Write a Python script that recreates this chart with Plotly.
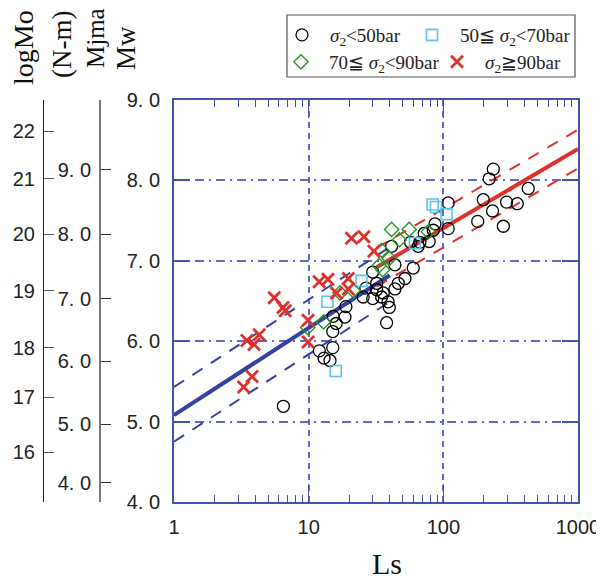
import plotly.graph_objects as go

# ---------------- data ----------------
ls_lt50 = [6.49, 12.0, 13.0, 14.4, 15.1, 15.1, 16.0, 15.2, 18.9, 18.6, 25.4, 26.6, 29.9, 32.0,
           34.8, 29.9, 32.0, 43.7, 46.3, 43.7, 51.9, 39.7, 37.9, 59.8, 41.3, 57.1, 67.0, 72.1,
           78.5, 86.7, 108.7, 108.7, 235, 219, 427, 198, 295, 354, 232, 180, 279, 84.2, 65.1,
           35.8, 38.9]
mw_lt50 = [5.19, 5.88, 5.79, 5.76, 5.92, 6.12, 6.22, 6.31, 6.43, 6.30, 6.55, 6.66, 6.53, 6.64,
           6.55, 6.86, 6.72, 6.95, 6.72, 6.65, 6.78, 6.42, 6.23, 6.91, 7.18, 7.23, 7.23, 7.34,
           7.24, 7.46, 7.40, 7.72, 8.14, 8.02, 7.90, 7.76, 7.73, 7.71, 7.62, 7.49, 7.43, 7.38,
           7.18, 6.60, 6.49]

ls_50_70 = [13.8, 15.9, 24.7, 61.5, 83.3, 88.2, 105.7]
mw_50_70 = [6.49, 5.63, 6.75, 7.22, 7.70, 7.67, 7.58]

ls_70_90 = [9.84, 12.9, 17.1, 21.4, 34.8, 39.7, 33.4, 35.5, 41.3, 47.1, 55.8, 77.3]
mw_70_90 = [6.17, 6.24, 6.60, 6.63, 7.13, 7.03, 6.94, 6.89, 7.39, 7.26, 7.39, 7.36]

ls_ge90 = [3.29, 3.80, 3.48, 3.93, 4.29, 5.55, 6.45, 6.70, 9.9, 9.9, 11.97, 13.9, 16.1,
           19.7, 19.7, 20.8, 25.7, 30.5]
mw_ge90 = [5.43, 5.56, 6.01, 5.96, 6.08, 6.54, 6.42, 6.38, 6.26, 5.99, 6.74, 6.77, 6.60,
           6.78, 6.65, 7.28, 7.30, 7.12]

# regression lines (end points)
blue_ls = [1, 40]
blue_mw = [5.08, 6.82]
blue_up_mw = [5.43, 7.17]
blue_lo_mw = [4.75, 6.49]
red_ls = [32, 1000]
red_mw = [6.92, 8.39]
red_up_mw = [7.16, 8.63]
red_lo_mw = [6.68, 8.15]

# axis tick labels
x_tickvals = [1, 10, 100, 1000]
x_ticktext = ["1", "10", "100", "1000"]
mw_tickvals = [4, 5, 6, 7, 8, 9]
mw_ticktext = ["4. 0", "5. 0", "6. 0", "7. 0", "8. 0", "9. 0"]
logmo_ticktext = ["16", "17", "18", "19", "20", "21", "22"]
logmo_tick_mw = [4.62, 5.30, 5.92, 6.63, 7.33, 8.02, 8.61]   # equivalent Mw positions
mjma_ticktext = ["4. 0", "5. 0", "6. 0", "7. 0", "8. 0", "9. 0"]
mjma_tick_mw = [4.24, 4.97, 5.75, 6.53, 7.33, 8.13]           # equivalent Mw positions

# ---------------- figure ----------------
W, H = 604, 581
OFF = 8                       # page body margin of the browser
# target positions on screen (px)
PLOT_L, PLOT_R, PLOT_T, PLOT_B = 174, 578, 100, 502
ML = 0
MR = W - (PLOT_R - OFF)
MT = PLOT_T - OFF
MB = H - (PLOT_B - OFF)
PW = W - ML - MR
PH = H - MT - MB


def px_x(px):
    return (px - OFF - ML) / PW


def px_y(py):
    return (PLOT_B - py) / PH


BLUE = "#3441a0"
RED = "#e0302a"
FRAME = "#4452b0"
GRID = "rgba(70,80,185,0.85)"

fig = go.Figure()

# lines
fig.add_trace(go.Scatter(x=blue_ls, y=blue_mw, mode="lines", line=dict(color=BLUE, width=4),
                         showlegend=False, hoverinfo="skip"))
for yy in (blue_up_mw, blue_lo_mw):
    fig.add_trace(go.Scatter(x=blue_ls, y=yy, mode="lines",
                             line=dict(color=BLUE, width=2, dash="12px,10px"),
                             showlegend=False, hoverinfo="skip"))
fig.add_trace(go.Scatter(x=red_ls, y=red_mw, mode="lines", line=dict(color=RED, width=4),
                         showlegend=False, hoverinfo="skip"))
for yy in (red_up_mw, red_lo_mw):
    fig.add_trace(go.Scatter(x=red_ls, y=yy, mode="lines",
                             line=dict(color=RED, width=2, dash="12px,10px"),
                             showlegend=False, hoverinfo="skip"))

# markers
fig.add_trace(go.Scatter(x=ls_lt50, y=mw_lt50, mode="markers",
                         name="<i>σ</i><sub>2</sub>&lt;50bar", legend="legend",
                         marker=dict(symbol="circle-open", size=12, color="black",
                                     line=dict(width=1.3, color="black"))))
fig.add_trace(go.Scatter(x=ls_50_70, y=mw_50_70, mode="markers",
                         name="50≦ <i>σ</i><sub>2</sub>&lt;70bar", legend="legend2",
                         marker=dict(symbol="square-open", size=11, color="#5ec3e6",
                                     line=dict(width=1.6, color="#5ec3e6"))))
fig.add_trace(go.Scatter(x=ls_70_90, y=mw_70_90, mode="markers",
                         name="70≦ <i>σ</i><sub>2</sub>&lt;90bar", legend="legend3",
                         marker=dict(symbol="diamond-open", size=11, color="#2a962a",
                                     line=dict(width=1.4, color="#2a962a"))))
fig.add_trace(go.Scatter(x=ls_ge90, y=mw_ge90, mode="markers",
                         name="<i>σ</i><sub>2</sub>≧90bar", legend="legend4",
                         marker=dict(symbol="x-thin", size=12, color=RED,
                                     line=dict(width=2.8, color=RED))))

# dummy traces to carry the auxiliary axes
fig.add_trace(go.Scatter(x=[None], y=[None], yaxis="y2", showlegend=False, hoverinfo="skip"))
fig.add_trace(go.Scatter(x=[None], y=[None], yaxis="y3", showlegend=False, hoverinfo="skip"))

minor_x = [m * 10 ** d for d in range(3) for m in range(2, 10)]

leg_font = dict(family="Liberation Serif", size=19, color="#222")


def leg(sym_x, sym_y):
    return dict(orientation="h", x=px_x(sym_x - 24), y=px_y(sym_y), xanchor="left",
                yanchor="middle", bgcolor="rgba(0,0,0,0)", borderwidth=0, itemwidth=46,
                font=leg_font)


fig.update_layout(
    width=W, height=H,
    margin=dict(l=ML, r=MR, t=MT, b=MB, pad=0, autoexpand=False),
    paper_bgcolor="white", plot_bgcolor="white",
    font=dict(family="Liberation Sans", color="#222"),
    xaxis=dict(
        type="log", range=[0, 3], domain=[px_x(PLOT_L), 1], automargin=False,
        tickvals=x_tickvals, ticktext=x_ticktext,
        tickfont=dict(size=20, family="Liberation Sans", color="#222"),
        ticks="inside", ticklen=18, tickwidth=1.2, tickcolor=FRAME,
        minor=dict(tickvals=minor_x, ticks="inside", ticklen=7, tickwidth=1, tickcolor=FRAME,
                   showgrid=False),
        showline=True, linecolor=FRAME, linewidth=2, mirror="ticks",
        showgrid=True, gridcolor=GRID, gridwidth=1.5, griddash="6px,5px",
        zeroline=False, ticklabelstandoff=6,
    ),
    yaxis=dict(
        range=[4, 9], domain=[0, 1], automargin=False,
        tickvals=mw_tickvals, ticktext=mw_ticktext,
        tickfont=dict(size=20, family="Liberation Sans", color="#222"),
        ticks="inside", ticklen=16, tickwidth=1.5, tickcolor=FRAME,
        showline=True, linecolor=FRAME, linewidth=2, mirror="ticks",
        showgrid=True, gridcolor=GRID, gridwidth=1.5, griddash="9px,5px,2px,5px",
        zeroline=False, ticklabelstandoff=8,
    ),
    yaxis2=dict(
        range=[4, 9], overlaying="y", anchor="free", position=px_x(43), side="left",
        automargin=False,
        tickvals=logmo_tick_mw, ticktext=logmo_ticktext,
        tickfont=dict(size=20, family="Liberation Sans", color="#222"),
        ticks="inside", ticklen=10, tickwidth=1.2, tickcolor="#555",
        showline=True, linecolor="#222", linewidth=1.2, showgrid=False, zeroline=False,
        ticklabelstandoff=4,
    ),
    yaxis3=dict(
        range=[4, 9], overlaying="y", anchor="free", position=px_x(100), side="left",
        automargin=False,
        tickvals=mjma_tick_mw, ticktext=mjma_ticktext,
        tickfont=dict(size=20, family="Liberation Sans", color="#222"),
        ticks="inside", ticklen=10, tickwidth=1.2, tickcolor="#333",
        showline=True, linecolor="#777", linewidth=1.8, showgrid=False, zeroline=False,
        ticklabelstandoff=4,
    ),
    legend=leg(298, 35),
    legend2=leg(428, 35),
    legend3=leg(297, 62),
    legend4=leg(453, 62),
    showlegend=True,
)

# legend frame
fig.add_shape(type="rect", xref="paper", yref="paper",
              x0=px_x(287), x1=px_x(575), y0=px_y(77), y1=px_y(15),
              line=dict(color="#555", width=1.2), fillcolor="rgba(0,0,0,0)", layer="below")

# titles
title_font = dict(family="Liberation Serif", color="#111")


def title(text, x, y, size, angle=-90):
    fig.add_annotation(text=text, x=px_x(x), y=px_y(y), xref="paper", yref="paper",
                       xanchor="center", yanchor="middle", textangle=angle,
                       showarrow=False, font=dict(size=size, **title_font))


title("logMo", 24, 48, 28)
title("(N-m)", 62, 45, 27)
title("Mjma", 96, 38, 25)
title("Mw", 126, 48, 27)
title("Ls", 387, 563, 30, angle=0)

fig.write_html("out.html")
